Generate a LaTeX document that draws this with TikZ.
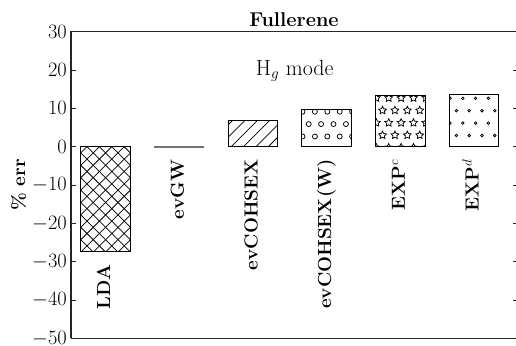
\RequirePackage{fix-cm}
\documentclass[tikz,border=0pt]{standalone}
\begin{document}
\begin{tikzpicture}[x=1bp,y=1bp,
  spine/.style={black!85, line width=1.1bp},
  tickmark/.style={black!85, line width=0.9bp},
  barbox/.style={draw=black, line width=0.9bp},
  hatchline/.style={black, line width=0.75bp},
  barlab/.style={font=\fontsize{19}{22}\selectfont\bfseries, rotate=90, anchor=base east, inner sep=0pt},
  ticklab/.style={font=\fontsize{20.5}{24}\selectfont, anchor=east, inner sep=0pt},
  hstar/.pic={\draw[hatchline] (90:4.1) -- (126:2.05) -- (162:4.1) -- (198:2.05) -- (234:4.1) -- (270:2.05) -- (306:4.1) -- (342:2.05) -- (18:4.1) -- (54:2.05) -- cycle;}
]
\useasboundingbox (0,0) rectangle (516,345);
\fill[white] (0,0) rectangle (516,345);

% ---- LDA bar (x hatch) ----
\begin{scope}
  \clip (80.7,93.3) rectangle (130.3,198.3);
  \foreach \k in {-20,...,20} {
    \draw[hatchline] (70,{70+111.3+12.4*\k}) -- (140,{140+111.3+12.4*\k});
    \draw[hatchline] (70,{-70+285.3+12.4*\k}) -- (140,{-140+285.3+12.4*\k});
  }
\end{scope}
\draw[barbox] (80.7,93.3) rectangle (130.3,198.3);

% ---- evGW bar (zero) ----
\draw[black!55, line width=1.6bp] (154.4,198.3) -- (204.0,198.3);

% ---- evCOHSEX bar (/ hatch) ----
\begin{scope}
  \clip (228.1,198.3) rectangle (277.7,225.0);
  \foreach \k in {-10,...,10} {
    \draw[hatchline] (215,{215-8+12.4*\k}) -- (290,{290-8+12.4*\k});
  }
\end{scope}
\draw[barbox] (228.1,198.3) rectangle (277.7,225.0);

% ---- evCOHSEX(W) bar (o hatch) ----
\begin{scope}
  \clip (301.8,198.3) rectangle (351.4,235.1);
  \foreach \yy/\xo in {196.1/308.7, 208.5/302.5, 220.9/308.7, 233.3/302.5, 245.7/308.7} {
    \foreach \j in {-1,...,5} {
      \draw[hatchline] ({\xo+12.4*\j},\yy) circle[radius=2.5];
    }
  }
\end{scope}
\draw[barbox] (301.8,198.3) rectangle (351.4,235.1);

% ---- EXP^c bar (star hatch) ----
\begin{scope}
  \clip (375.5,198.3) rectangle (425.1,249.7);
  \foreach \yy/\xo in {197.4/376.3, 209.8/382.5, 222.2/376.3, 234.6/382.5, 247.0/376.3} {
    \foreach \j in {-1,...,5} {
      \pic at ({\xo+12.4*\j},\yy) {hstar};
    }
  }
\end{scope}
\draw[barbox] (375.5,198.3) rectangle (425.1,249.7);

% ---- EXP^d bar (. hatch) ----
\begin{scope}
  \clip (449.2,198.3) rectangle (498.8,251.0);
  \foreach \yy/\xo in {197.1/450.0, 209.5/456.4, 221.9/450.0, 234.3/456.4, 246.7/450.0} {
    \foreach \j in {-1,...,5} {
      \draw[hatchline] ({\xo+12.8*\j},\yy) circle[radius=1.3];
    }
  }
\end{scope}
\draw[barbox] (449.2,198.3) rectangle (498.8,251.0);

% ---- axes ----
\draw[spine] (71,6.6) -- (71,313.3) -- (520,313.3);
\draw[spine] (71,6.6) -- (520,6.6);
\draw[spine] (518,6.6) -- (518,313.3);
\foreach \v/\nm in {-50/a,-40/b,-30/c,-20/d,-10/e,0/f,10/g,20/h,30/i} {
  \draw[tickmark] (71,{198.3+3.833*\v}) -- ++(4.5,0);
  \draw[tickmark] (518,{198.3+3.833*\v}) -- ++(-5,0);
  \node[ticklab] (tick\nm) at (67,{198.3+3.833*\v}) {$\v$};
}

% ---- labels ----
\node[barlab] (lLDA) at (110.1,80.8) {LDA};
\node[barlab] (lGW) at (183.8,185.8) {evGW};
\node[barlab] (lCOH) at (257.5,185.8) {evCOHSEX};
\node[barlab] (lCOHW) at (331.2,185.8) {evCOHSEX(W)};
\node[barlab] (lEXPc) at (404.9,185.8) {EXP$^{c}$};
\node[barlab] (lEXPd) at (478.6,185.8) {EXP$^{d}$};

\node[font=\fontsize{19}{22}\selectfont\bfseries, rotate=90, inner sep=0pt] (ylab) at (18.5,160) {\% err};
\node[font=\fontsize{20}{24}\selectfont\bfseries, anchor=base, inner sep=0pt] (title) at (294,319) {Fullerene};
\node[font=\fontsize{22}{26}\selectfont, anchor=base, inner sep=0pt] (mode) at (294.7,270) {H$_g$ mode};
\end{tikzpicture}
\end{document}
